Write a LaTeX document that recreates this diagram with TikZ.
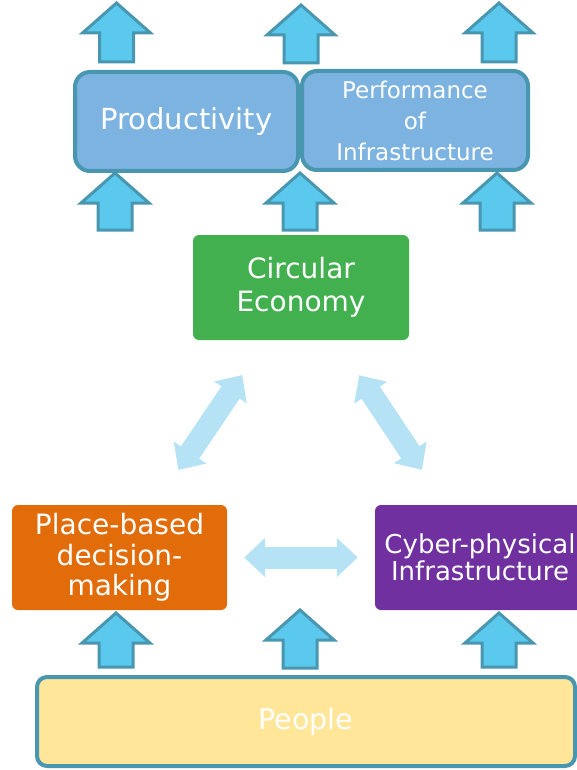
\documentclass[tikz,border=0pt]{standalone}
\usepackage{fontspec}
\setmainfont{DejaVu Sans}
\usetikzlibrary{arrows.meta}

\definecolor{boxblue}{HTML}{7DB3E0}
\definecolor{edgeteal}{HTML}{4896B0}
\definecolor{arrblue}{HTML}{5BC9EE}
\definecolor{linkblue}{HTML}{B5E2F5}
\definecolor{cegreen}{HTML}{43B04F}
\definecolor{pborange}{HTML}{E36C0A}
\definecolor{cypurple}{HTML}{7030A0}
\definecolor{pplyellow}{HTML}{FFE699}

\newcommand{\boxfont}[2]{\fontsize{#1}{#2}\selectfont}
\newcommand{\uparr}[3]{%
	\draw[uparrow] (#1,#2) -- ({#1+34},{#2+30}) -- ({#1+17},{#2+30}) -- ({#1+17},#3) -- ({#1-17},#3) -- ({#1-17},{#2+30}) -- ({#1-34},{#2+30}) -- cycle;}

\begin{document}
\begin{tikzpicture}[x=1pt,y=-1pt,
	topbox/.style={draw=edgeteal,line width=4pt,fill=boxblue,rounded corners=15pt,text=white,align=center,inner sep=0pt},
	flatbox/.style={rounded corners=6pt,text=white,align=center,inner sep=0pt},
	uparrow/.style={draw=edgeteal,line width=3pt,fill=arrblue,line join=miter},
	link/.style={draw=linkblue,line width=22pt,{Triangle[width=38pt,length=21pt]}-{Triangle[width=38pt,length=21pt]}}]
	\useasboundingbox (0,0) rectangle (577,770);

	\node[topbox,minimum width=223pt,minimum height=99pt,font=\boxfont{29}{33}] (prod) at (186.5,121.5) {Productivity};
	\node[topbox,minimum width=226pt,minimum height=99pt,font=\boxfont{23}{31}] (perf) at (415,120.5) {Performance\\of\\Infrastructure};
	\node[flatbox,fill=cegreen,minimum width=216pt,minimum height=105pt,font=\boxfont{28}{33}] (ce) at (301,287.5) {Circular\\Economy};
	\node[flatbox,fill=pborange,minimum width=215pt,minimum height=105pt,font=\boxfont{28}{30.5}] (pb) at (119.5,557.5) {Place-based\\decision-\\making};
	\node[flatbox,fill=cypurple,minimum width=210pt,minimum height=105pt,font=\boxfont{26}{27}] (cy) at (480,557.5) {Cyber-physical\\Infrastructure};
	\node[draw=edgeteal,line width=4pt,fill=pplyellow,rounded corners=10pt,minimum width=538pt,minimum height=89pt,inner sep=0pt,text=white,font=\boxfont{28.5}{33}] (ppl) at (306,721.5) {People};

	\draw[link,shorten <=42pt,shorten >=42pt] (pb) -- (ce);
	\draw[link,shorten <=42pt,shorten >=42pt] (ce) -- (cy);
	\draw[link,shorten <=17pt,shorten >=17pt] (pb) -- (cy);

	\uparr{116.5}{3}{62}
	\uparr{301}{5}{63}
	\uparr{499}{3}{62}
	\uparr{115}{173}{230}
	\uparr{300}{173}{230}
	\uparr{497}{173}{230}
	\uparr{116}{613}{667}
	\uparr{300}{610}{668}
	\uparr{499}{613}{667}
\end{tikzpicture}
\end{document}
